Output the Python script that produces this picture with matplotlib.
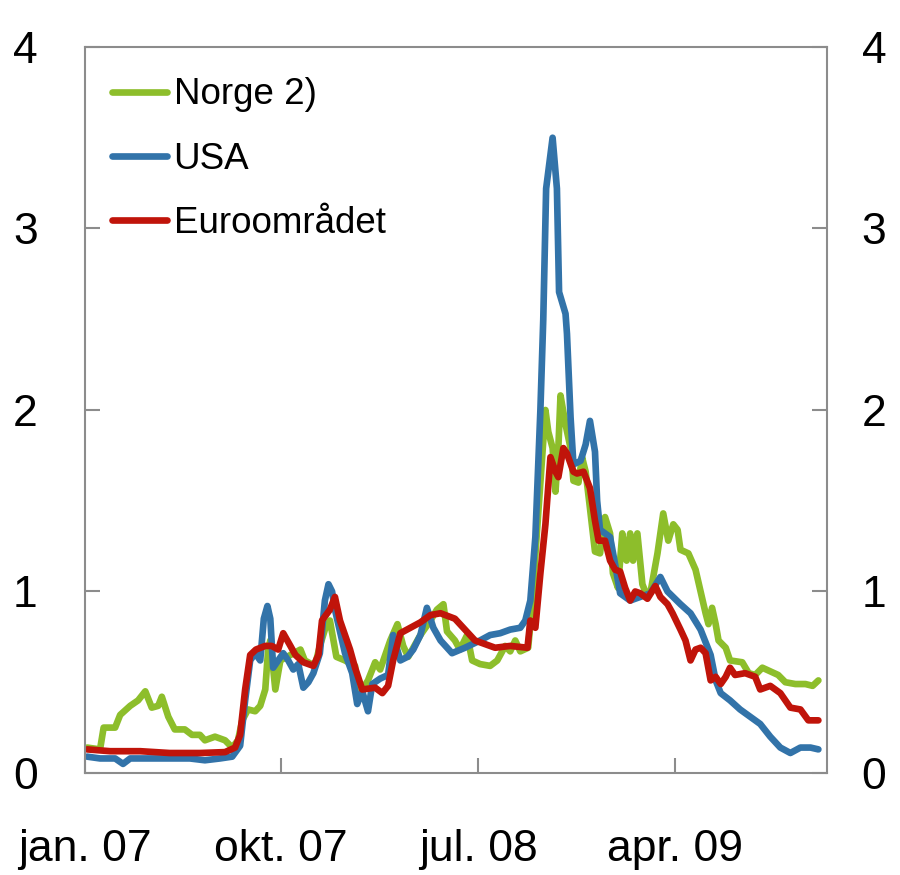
import matplotlib
matplotlib.use("Agg")
import matplotlib.pyplot as plt
import pandas as pd

# Norge 2)
norge_dates = [
    "2007-01-04", "2007-01-22", "2007-01-27", "2007-02-12", "2007-02-19", "2007-03-05",
    "2007-03-16", "2007-03-26", "2007-04-04", "2007-04-13", "2007-04-18", "2007-04-27",
    "2007-05-06", "2007-05-20", "2007-05-30", "2007-06-10", "2007-06-17", "2007-07-01",
    "2007-07-15", "2007-07-25", "2007-08-02", "2007-08-08", "2007-08-16", "2007-08-26",
    "2007-09-02", "2007-09-09", "2007-09-13", "2007-09-16", "2007-09-23", "2007-09-30",
    "2007-10-14", "2007-10-28", "2007-11-03", "2007-11-17", "2007-11-24", "2007-12-01",
    "2007-12-08", "2007-12-17", "2007-12-29", "2008-01-12", "2008-01-16", "2008-01-22",
    "2008-01-30", "2008-02-09", "2008-02-16", "2008-03-01", "2008-03-11", "2008-03-19",
    "2008-03-26", "2008-04-12", "2008-04-26", "2008-05-05", "2008-05-14", "2008-05-19",
    "2008-05-30", "2008-06-06", "2008-06-16", "2008-06-23", "2008-07-04", "2008-07-18",
    "2008-07-28", "2008-08-08", "2008-08-15", "2008-08-22", "2008-08-29", "2008-09-09",
    "2008-09-15", "2008-09-19", "2008-09-23", "2008-10-03", "2008-10-07", "2008-10-13",
    "2008-10-17", "2008-10-21", "2008-10-24", "2008-10-31", "2008-11-07", "2008-11-11",
    "2008-11-18", "2008-11-23", "2008-11-28", "2008-12-04", "2008-12-11", "2008-12-18",
    "2008-12-25", "2009-01-01", "2009-01-05", "2009-01-12", "2009-01-18", "2009-01-24",
    "2009-01-29", "2009-02-02", "2009-02-08", "2009-02-15", "2009-02-19", "2009-02-26",
    "2009-03-08", "2009-03-16", "2009-03-23", "2009-03-30", "2009-04-05", "2009-04-09",
    "2009-04-20", "2009-04-30", "2009-05-07", "2009-05-14", "2009-05-18", "2009-05-23",
    "2009-05-28", "2009-06-01", "2009-06-11", "2009-06-17", "2009-07-04", "2009-07-13",
    "2009-07-22", "2009-08-01", "2009-08-12", "2009-08-23", "2009-09-02", "2009-09-16",
    "2009-09-30", "2009-10-10", "2009-10-18",
]
norge_vals = [
    0.14, 0.13, 0.25, 0.25, 0.32, 0.37,
    0.40, 0.45, 0.36, 0.37, 0.42, 0.31,
    0.24, 0.24, 0.21, 0.21, 0.18, 0.20,
    0.18, 0.14, 0.18, 0.29, 0.35, 0.34,
    0.37, 0.46, 0.68, 0.73, 0.46, 0.62,
    0.65, 0.68, 0.62, 0.59, 0.70, 0.79,
    0.84, 0.64, 0.62, 0.59, 0.46, 0.46,
    0.51, 0.61, 0.57, 0.73, 0.82, 0.70,
    0.64, 0.76, 0.84, 0.90, 0.93, 0.78,
    0.73, 0.68, 0.76, 0.62, 0.60, 0.59,
    0.62, 0.70, 0.67, 0.73, 0.67, 0.69,
    0.95, 1.20, 1.43, 2.00, 1.88, 1.79,
    1.55, 1.79, 2.08, 1.92, 1.79, 1.61,
    1.60, 1.74, 1.66, 1.46, 1.22, 1.21,
    1.41, 1.32, 1.10, 1.02, 1.32, 1.17,
    1.32, 1.17, 1.32, 1.04, 1.00, 0.99,
    1.21, 1.43, 1.28, 1.37, 1.34, 1.23,
    1.21, 1.12, 1.00, 0.88, 0.82, 0.91,
    0.82, 0.73, 0.69, 0.62, 0.61, 0.55,
    0.54, 0.58, 0.56, 0.54, 0.50, 0.49,
    0.49, 0.48, 0.51,
]

# USA
usa_dates = [
    "2007-01-04", "2007-01-22", "2007-02-12", "2007-02-23", "2007-03-05", "2007-04-02",
    "2007-04-29", "2007-05-27", "2007-06-17", "2007-07-08", "2007-07-25", "2007-08-05",
    "2007-08-12", "2007-08-19", "2007-08-26", "2007-09-02", "2007-09-07", "2007-09-12",
    "2007-09-16", "2007-09-20", "2007-09-27", "2007-10-04", "2007-10-11", "2007-10-18",
    "2007-10-25", "2007-11-01", "2007-11-08", "2007-11-15", "2007-11-24", "2007-12-01",
    "2007-12-06", "2007-12-11", "2007-12-15", "2007-12-29", "2008-01-08", "2008-01-15",
    "2008-01-22", "2008-01-30", "2008-02-05", "2008-02-16", "2008-02-27", "2008-03-05",
    "2008-03-15", "2008-03-25", "2008-04-02", "2008-04-12", "2008-04-21", "2008-04-30",
    "2008-05-10", "2008-05-26", "2008-06-13", "2008-07-04", "2008-07-18", "2008-08-01",
    "2008-08-15", "2008-08-29", "2008-09-05", "2008-09-12", "2008-09-19", "2008-09-26",
    "2008-09-30", "2008-10-04", "2008-10-13", "2008-10-19", "2008-10-22", "2008-10-31",
    "2008-11-02", "2008-11-07", "2008-11-11", "2008-11-21", "2008-11-28", "2008-12-04",
    "2008-12-11", "2008-12-14", "2008-12-18", "2009-01-01", "2009-01-08", "2009-01-15",
    "2009-01-29", "2009-02-12", "2009-02-26", "2009-03-12", "2009-03-22", "2009-04-09",
    "2009-04-23", "2009-05-07", "2009-05-21", "2009-05-28", "2009-06-04", "2009-06-17",
    "2009-07-01", "2009-07-15", "2009-07-29", "2009-08-12", "2009-08-26", "2009-09-09",
    "2009-09-23", "2009-10-07", "2009-10-18",
]
usa_vals = [
    0.09, 0.08, 0.08, 0.05, 0.08, 0.08,
    0.08, 0.08, 0.07, 0.08, 0.09, 0.15,
    0.40, 0.62, 0.66, 0.62, 0.85, 0.92,
    0.85, 0.58, 0.62, 0.66, 0.62, 0.57,
    0.60, 0.47, 0.50, 0.55, 0.66, 0.95,
    1.04, 1.00, 0.90, 0.66, 0.55, 0.38,
    0.45, 0.34, 0.49, 0.52, 0.54, 0.76,
    0.62, 0.64, 0.68, 0.76, 0.91, 0.80,
    0.73, 0.66, 0.69, 0.73, 0.76, 0.77,
    0.79, 0.80, 0.84, 0.95, 1.30, 2.00,
    2.50, 3.22, 3.50, 3.22, 2.65, 2.53,
    2.42, 1.96, 1.70, 1.72, 1.81, 1.94,
    1.77, 1.50, 1.34, 1.30, 1.15, 0.99,
    0.95, 0.97, 0.99, 1.08, 1.00, 0.93,
    0.88, 0.79, 0.65, 0.51, 0.44, 0.40,
    0.35, 0.31, 0.27, 0.20, 0.14, 0.11,
    0.14, 0.14, 0.13,
]

# Euroområdet
euro_dates = [
    "2007-01-04", "2007-02-05", "2007-03-19", "2007-04-29", "2007-06-10", "2007-07-15",
    "2007-07-29", "2007-08-05", "2007-08-12", "2007-08-19", "2007-08-27", "2007-09-09",
    "2007-09-18", "2007-09-27", "2007-10-04", "2007-10-14", "2007-10-21", "2007-11-01",
    "2007-11-15", "2007-11-22", "2007-11-27", "2007-12-08", "2007-12-15", "2007-12-22",
    "2008-01-05", "2008-01-12", "2008-01-22", "2008-02-09", "2008-02-19", "2008-02-27",
    "2008-03-05", "2008-03-15", "2008-03-29", "2008-04-12", "2008-04-26", "2008-05-10",
    "2008-05-30", "2008-06-13", "2008-06-27", "2008-07-11", "2008-07-25", "2008-08-15",
    "2008-09-08", "2008-09-12", "2008-09-19", "2008-09-26", "2008-10-03", "2008-10-10",
    "2008-10-17", "2008-10-21", "2008-10-28", "2008-11-02", "2008-11-11", "2008-11-16",
    "2008-11-25", "2008-12-04", "2008-12-11", "2008-12-16", "2008-12-25", "2009-01-01",
    "2009-01-08", "2009-01-15", "2009-01-22", "2009-01-29", "2009-02-05", "2009-02-12",
    "2009-02-22", "2009-03-05", "2009-03-12", "2009-03-22", "2009-03-29", "2009-04-09",
    "2009-04-16", "2009-04-23", "2009-04-30", "2009-05-07", "2009-05-14", "2009-05-21",
    "2009-05-28", "2009-06-04", "2009-06-11", "2009-06-17", "2009-06-24", "2009-07-08",
    "2009-07-22", "2009-07-29", "2009-08-12", "2009-08-26", "2009-09-09", "2009-09-23",
    "2009-10-04", "2009-10-18",
]
euro_vals = [
    0.13, 0.12, 0.12, 0.11, 0.11, 0.115,
    0.14, 0.21, 0.46, 0.65, 0.68, 0.70,
    0.70, 0.68, 0.77, 0.70, 0.65, 0.61,
    0.59, 0.65, 0.84, 0.90, 0.97, 0.84,
    0.68, 0.58, 0.46, 0.47, 0.44, 0.48,
    0.62, 0.77, 0.80, 0.83, 0.87, 0.88,
    0.85, 0.79, 0.73, 0.71, 0.69, 0.70,
    0.69, 0.84, 0.80, 1.10, 1.37, 1.74,
    1.66, 1.63, 1.79, 1.76, 1.66, 1.65,
    1.66, 1.57, 1.39, 1.28, 1.28, 1.17,
    1.12, 1.11, 1.02, 0.95, 1.00, 0.99,
    0.96, 1.03, 0.97, 0.93, 0.88, 0.79,
    0.73, 0.62, 0.68, 0.69, 0.66, 0.51,
    0.53, 0.49, 0.53, 0.58, 0.54, 0.55,
    0.53, 0.46, 0.48, 0.44, 0.36, 0.35,
    0.29, 0.29,
]

tick_dates = ["2007-01-01", "2007-10-01", "2008-07-01", "2009-04-01"]
tick_labels = ["jan. 07", "okt. 07", "jul. 08", "apr. 09"]
y_ticks = [0, 1, 2, 3, 4]

plt.rcParams["font.family"] = ["Liberation Sans", "DejaVu Sans"]

green = "#8dbe2b"
blue = "#3273a9"
red = "#c0140a"
grey = "#8c8c8c"
lw = 4.8

fig = plt.figure(figsize=(9, 8.75), dpi=100)
ax = fig.add_axes([0.0944, 0.1166, 0.8245, 0.8297])

style = dict(lw=lw, solid_capstyle="round", solid_joinstyle="round")
ax.plot(pd.to_datetime(norge_dates), norge_vals, color=green, label="Norge 2)", **style)
ax.plot(pd.to_datetime(usa_dates), usa_vals, color=blue, label="USA", **style)
ax.plot(pd.to_datetime(euro_dates), euro_vals, color=red, label="Euroområdet", **style)

ax.set_xlim(pd.Timestamp("2007-01-01"), pd.Timestamp("2009-10-30"))
ax.set_ylim(0, 4)
ax.set_xticks(pd.to_datetime(tick_dates))
ax.set_xticklabels(tick_labels)
ax.set_yticks(y_ticks)

for s in ax.spines.values():
    s.set_color(grey)
    s.set_linewidth(1.5)

ax.tick_params(axis="x", direction="in", length=11, width=1.5, color=grey,
               labelsize=32, pad=40)
ax.tick_params(axis="y", direction="in", length=11, width=1.5, color=grey,
               labelsize=32, pad=34)

# right-hand axis with the same scale
ax2 = ax.twinx()
ax2.set_ylim(0, 4)
ax2.set_yticks(y_ticks)
ax2.tick_params(axis="y", direction="in", length=11, width=1.5, color=grey,
                labelsize=32, pad=25)
for s in ax2.spines.values():
    s.set_visible(False)

leg = ax.legend(loc="upper left", bbox_to_anchor=(0.036, 0.958), frameon=False,
                fontsize=26.5, handlelength=1.5, handletextpad=0.18,
                labelspacing=0.8, borderaxespad=0, borderpad=0)

fig.savefig("out.png", dpi=100)
